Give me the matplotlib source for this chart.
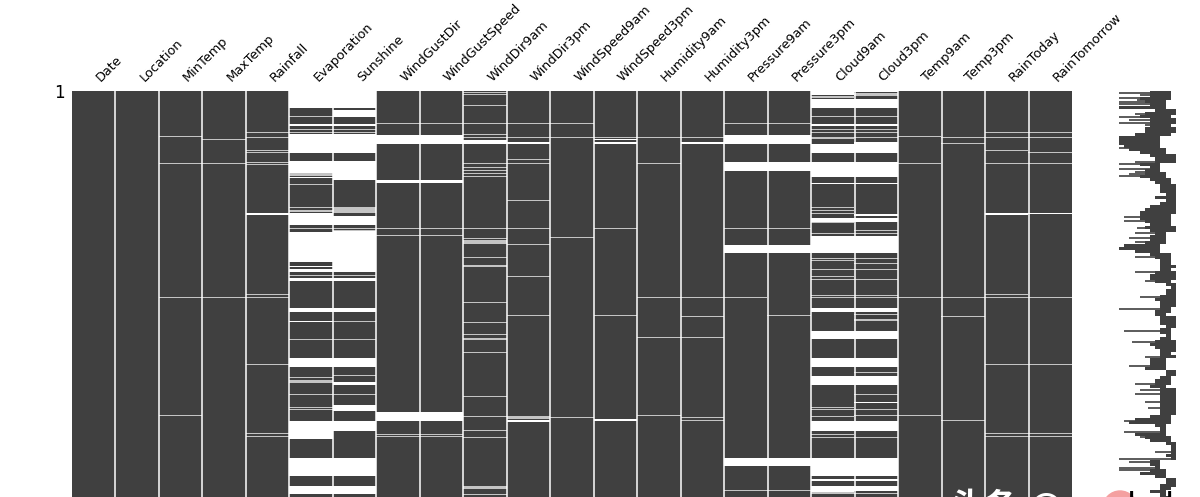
import matplotlib
matplotlib.use('Agg')
import matplotlib.pyplot as plt
import numpy as np
from matplotlib.colors import ListedColormap
from matplotlib.patches import Circle

plt.rcParams['font.family'] = ['DejaVu Sans', 'Noto Sans CJK SC']

# ---------- 列名 ----------
columns = ['Date', 'Location', 'MinTemp', 'MaxTemp', 'Rainfall', 'Evaporation', 'Sunshine',
           'WindGustDir', 'WindGustSpeed', 'WindDir9am', 'WindDir3pm', 'WindSpeed9am',
           'WindSpeed3pm', 'Humidity9am', 'Humidity3pm', 'Pressure9am', 'Pressure3pm',
           'Cloud9am', 'Cloud3pm', 'Temp9am', 'Temp3pm', 'RainToday', 'RainTomorrow']

n_rows = 406

# ---------- 每列的缺失：细线（单行）和整段空白 ----------
thin_rows = [
    [],
    [],
    [45, 72, 206, 324],
    [48, 72, 206],
    [41, 46, 59, 61, 71, 73, 203, 206, 273, 342, 345],
    [25, 38, 41, 82, 83, 84, 93, 116, 119, 120, 137, 184, 248, 286, 289, 290, 291, 303, 316, 318],
    [25, 38, 41, 116, 117, 118, 119, 120, 121, 137, 139, 184, 230, 248, 284, 303],
    [32, 137, 144, 343, 345],
    [32, 137, 144, 343, 345],
    [1, 3, 14, 32, 43, 46, 72, 76, 79, 82, 85, 137, 147, 149, 150, 151, 152, 166, 174, 175, 211, 231,
     243, 247, 248, 261, 305, 325, 339, 346, 395, 396, 397, 403],
    [32, 46, 68, 72, 109, 137, 153, 185, 224, 325, 326, 327],
    [32, 46, 146, 326],
    [46, 137, 224],
    [46, 72, 206, 246, 324],
    [46, 206, 225, 246, 326, 329],
    [32, 137, 206, 399],
    [32, 137, 224, 399],
    [5, 6, 25, 38, 41, 46, 47, 116, 119, 122, 129, 131, 142, 167, 169, 178, 185, 188, 204, 206,
     316, 318, 325, 343, 346, 401, 402],
    [2, 3, 4, 25, 38, 41, 46, 129, 139, 142, 154, 167, 172, 178, 188, 204, 206, 223, 228, 229, 281,
     303, 318, 324, 346, 402],
    [45, 72, 206, 324],
    [46, 52, 206, 225, 329],
    [41, 46, 59, 72, 203, 206, 273, 342, 345],
    [41, 46, 61, 72, 206, 273, 342, 345],
]

gap_rows = [
    [],
    [],
    [],
    [],
    [(122, 124)],
    [(0, 17), (33, 35), (43, 62), (70, 82), (86, 87), (122, 134), (141, 171), (175, 176), (178, 181),
     (187, 190), (217, 221), (230, 231), (267, 276), (330, 348), (367, 385), (395, 403)],
    [(0, 17), (19, 26), (33, 35), (43, 62), (70, 89), (125, 134), (140, 181), (187, 190), (217, 221),
     (267, 276), (291, 294), (314, 320), (330, 340), (367, 385), (395, 403)],
    [(44, 53), (89, 92), (321, 330)],
    [(44, 53), (89, 92), (321, 330)],
    [(49, 53)],
    [(51, 53), (329, 331)],
    [],
    [(48, 49), (51, 53), (328, 330)],
    [],
    [(51, 53)],
    [(44, 53), (71, 80), (154, 162), (367, 375)],
    [(44, 53), (71, 80), (154, 162), (367, 375)],
    [(0, 4), (8, 17), (33, 35), (53, 62), (71, 86), (92, 93), (127, 131), (145, 162), (217, 221),
     (240, 248), (267, 276), (285, 294), (330, 340), (367, 385), (388, 390), (395, 401)],
    [(0, 1), (8, 17), (33, 35), (51, 62), (71, 86), (92, 93), (123, 125), (127, 131), (145, 162),
     (217, 221), (240, 248), (267, 276), (285, 294), (311, 312), (330, 340), (367, 385), (388, 390),
     (395, 400)],
    [],
    [],
    [(122, 124)],
    [(122, 123)],
]

# ---------- 右侧完整度曲线：每3行一个下限/上限 ----------
spark_lo = [18, 18, 16, 17, 18, 12, 19, 17, 16, 18, 18, 18, 17, 17, 15, 12, 12, 12, 13, 14, 16, 18, 19,
            19, 16, 18, 17, 17, 16, 18, 19, 20, 20, 20, 21, 19, 21, 20, 18, 17, 16, 16, 16, 17, 18, 17,
            18, 19, 18, 18, 17, 13, 12, 15, 18, 19, 20, 20, 20, 20, 19, 18, 18, 19, 21, 22, 21, 21,
            20, 19, 20, 20, 20, 19, 19, 20, 20, 20, 21, 20, 20, 21, 20, 19, 18, 19, 20, 20, 20, 18,
            18, 18, 17, 21, 21, 20, 19, 19, 18, 20, 20, 20, 20, 20, 20, 20, 20, 20, 18, 15, 14, 19,
            20, 20, 15, 17, 18, 21, 22, 22, 22, 21, 22, 18, 18, 19, 18, 16, 19, 21, 21, 20, 20, 18,
            20, 20]
spark_hi = [22, 22, 22, 21, 21, 21, 23, 23, 22, 23, 23, 22, 23, 23, 22, 20, 20, 20, 20, 21, 21, 23, 23,
            23, 20, 20, 20, 21, 21, 22, 22, 23, 23, 23, 23, 23, 23, 23, 23, 23, 23, 22, 22, 22, 22, 23,
            23, 21, 21, 21, 21, 20, 20, 20, 22, 22, 22, 22, 23, 22, 23, 23, 23, 22, 23, 23, 23, 23,
            23, 23, 23, 23, 22, 22, 21, 23, 23, 23, 23, 22, 22, 22, 22, 23, 23, 23, 23, 22, 23, 21,
            21, 21, 21, 23, 23, 22, 22, 22, 21, 23, 23, 23, 23, 23, 23, 23, 23, 23, 22, 22, 22, 21,
            21, 21, 21, 22, 22, 23, 23, 23, 23, 23, 23, 20, 20, 20, 21, 21, 21, 23, 23, 23, 22, 21,
            21, 22]
spike_rows = [2, 4, 7, 9, 11, 13, 23, 26, 29, 32, 34, 39, 44, 57, 59, 71, 73, 78, 81, 83, 85, 121, 123,
              126, 130, 137, 142, 147, 151, 166, 181, 190,
              206, 218, 240, 251, 266, 275, 293, 299, 303, 311, 317, 330, 341, 346, 361, 368, 371,
              377, 379, 383]
spike_vals = [12, 16, 12, 15.5, 12, 12, 15, 12, 14, 12, 17, 17, 15, 12, 14, 15, 12, 12, 15, 14, 12, 16, 16,
              13, 13, 15.5, 15, 14, 15, 15, 15, 17,
              16, 12, 13, 14.5, 17, 14, 15, 16, 15, 17, 17.5, 13, 13, 16, 19, 12, 14,
              12, 12, 16]

W, H = 1200, 497
dark = '#404040'

fig = plt.figure(figsize=(W / 100, H / 100), dpi=100, facecolor='white')


def px_axes(x0, x1, y0, y1):
    return fig.add_axes([x0 / W, 1 - y1 / H, (x1 - x0) / W, (y1 - y0) / H])


# ---------- 主矩阵 ----------
ax = px_axes(72, 1072, 91, 497)
mat = np.zeros((n_rows, len(columns)))
for j in range(len(columns)):
    for r in thin_rows[j]:
        mat[r, j] = 1
    for a, b in gap_rows[j]:
        mat[a:b, j] = 2
cmap = ListedColormap([dark, '#c4c4c4', 'white'])
ax.imshow(mat, cmap=cmap, vmin=0, vmax=2, aspect='auto', interpolation='nearest')
for x in np.arange(0.5, len(columns) - 0.5):
    ax.axvline(x, color='white', linewidth=1.1)
ax.xaxis.tick_top()
ax.set_xticks(range(len(columns)))
ax.set_xticklabels(columns, rotation=45, ha='left', fontsize=9.3)
ax.set_yticks([0])
ax.set_yticklabels(['1'], fontsize=12)
ax.tick_params(length=0, pad=5)
for s in ax.spines.values():
    s.set_visible(False)

# ---------- 右侧完整度 ----------
ax1 = px_axes(1119, 1176, 91, 497)
rows_c = np.arange(len(spark_lo)) * 3 + 1.5
ax1.barh(rows_c, np.array(spark_hi) - np.array(spark_lo), left=spark_lo, height=3, color=dark, linewidth=0)
spike_end = [spark_lo[r // 3] + 1 for r in spike_rows]
ax1.hlines(spike_rows, spike_vals, spike_end, color=dark, linewidth=1.2)
ax1.set_xlim(12, 23)
ax1.set_ylim(n_rows, 0)
ax1.axis('off')

# ---------- 底部水印（被裁掉大半）----------
fig.add_artist(Circle((1120, -11), 17, transform=None, color='#f4a0a0', zorder=5))
fig.text(951 / W, -20 / H, '头条 @d', color='white', fontsize=24, fontweight='bold', va='baseline', zorder=6)
fig.text(1127 / W, -20 / H, 'l', color='black', fontsize=24, va='baseline', zorder=6)
fig.text(1165 / W, -20 / H, 'l', color='black', fontsize=24, va='baseline', zorder=6)

fig.savefig('out.png', dpi=100)
